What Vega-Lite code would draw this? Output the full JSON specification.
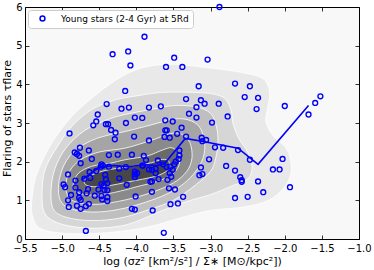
{
"$schema": "https://vega.github.io/schema/vega-lite/v6.json",
"width": 334, "height": 232,
"autosize": "none",
"padding": {"left": 25, "top": 7, "right": 15, "bottom": 31},
"background": "white",
"config": {
  "view": {"fill": "#f8f8f8", "stroke": "#000000", "strokeWidth": 1},
  "font": "DejaVu Sans",
  "axis": {"grid": false, "domain": false, "tickColor": "#000000", "tickSize": -4, "tickWidth": 0.8,
           "labelFont": "DejaVu Sans", "labelFontSize": 10, "labelColor": "#000000",
           "titleFont": "DejaVu Sans", "titleFontSize": 11, "titleColor": "#000000", "titleFontWeight": "normal"}
},
"datasets": {
"kde": [
{"l":1,"i":0,"x":-5.3,"y":0.28},{"l":1,"i":1,"x":-5.4,"y":0.6},{"l":1,"i":2,"x":-5.41,"y":0.95},{"l":1,"i":3,"x":-5.38,"y":1.4},{"l":1,"i":4,"x":-5.32,"y":1.79},{"l":1,"i":5,"x":-5.14,"y":2.48},{"l":1,"i":6,"x":-4.87,"y":3.17},{"l":1,"i":7,"x":-4.51,"y":3.78},{"l":1,"i":8,"x":-4.19,"y":4.21},{"l":1,"i":9,"x":-3.88,"y":4.45},{"l":1,"i":10,"x":-3.5,"y":4.52},{"l":1,"i":11,"x":-3.13,"y":4.45},{"l":1,"i":12,"x":-2.75,"y":4.36},{"l":1,"i":13,"x":-2.46,"y":4.26},{"l":1,"i":14,"x":-2.28,"y":4.13},{"l":1,"i":15,"x":-2.21,"y":3.87},{"l":1,"i":16,"x":-2.21,"y":3.6},{"l":1,"i":17,"x":-2.24,"y":3.3},{"l":1,"i":18,"x":-2.25,"y":3.0},{"l":1,"i":19,"x":-2.15,"y":2.65},{"l":1,"i":20,"x":-1.97,"y":2.32},{"l":1,"i":21,"x":-1.91,"y":1.8},{"l":1,"i":22,"x":-2.0,"y":1.35},{"l":1,"i":23,"x":-2.22,"y":1.0},{"l":1,"i":24,"x":-2.55,"y":0.83},{"l":1,"i":25,"x":-3.0,"y":0.74},{"l":1,"i":26,"x":-3.4,"y":0.55},{"l":1,"i":27,"x":-3.8,"y":0.33},{"l":1,"i":28,"x":-4.2,"y":0.2},{"l":1,"i":29,"x":-4.6,"y":0.14},{"l":1,"i":30,"x":-5.0,"y":0.15},
{"l":2,"i":0,"x":-5.23,"y":0.65},{"l":2,"i":1,"x":-5.27,"y":1.2},{"l":2,"i":2,"x":-5.23,"y":1.79},{"l":2,"i":3,"x":-5.09,"y":2.31},{"l":2,"i":4,"x":-4.87,"y":2.91},{"l":2,"i":5,"x":-4.6,"y":3.35},{"l":2,"i":6,"x":-4.28,"y":3.6},{"l":2,"i":7,"x":-4.0,"y":3.7},{"l":2,"i":8,"x":-3.72,"y":3.78},{"l":2,"i":9,"x":-3.4,"y":3.8},{"l":2,"i":10,"x":-3.0,"y":3.76},{"l":2,"i":11,"x":-2.8,"y":3.62},{"l":2,"i":12,"x":-2.72,"y":3.3},{"l":2,"i":13,"x":-2.7,"y":3.0},{"l":2,"i":14,"x":-2.62,"y":2.6},{"l":2,"i":15,"x":-2.5,"y":2.25},{"l":2,"i":16,"x":-2.44,"y":1.85},{"l":2,"i":17,"x":-2.5,"y":1.55},{"l":2,"i":18,"x":-2.7,"y":1.38},{"l":2,"i":19,"x":-3.0,"y":1.15},{"l":2,"i":20,"x":-3.3,"y":0.98},{"l":2,"i":21,"x":-3.67,"y":0.72},{"l":2,"i":22,"x":-3.94,"y":0.5},{"l":2,"i":23,"x":-4.2,"y":0.34},{"l":2,"i":24,"x":-4.6,"y":0.28},{"l":2,"i":25,"x":-5.0,"y":0.38},
{"l":3,"i":0,"x":-5.1,"y":0.72},{"l":3,"i":1,"x":-5.15,"y":1.2},{"l":3,"i":2,"x":-5.1,"y":1.8},{"l":3,"i":3,"x":-4.95,"y":2.35},{"l":3,"i":4,"x":-4.7,"y":2.8},{"l":3,"i":5,"x":-4.4,"y":3.08},{"l":3,"i":6,"x":-4.15,"y":3.22},{"l":3,"i":7,"x":-3.8,"y":3.35},{"l":3,"i":8,"x":-3.5,"y":3.45},{"l":3,"i":9,"x":-3.2,"y":3.42},{"l":3,"i":10,"x":-3.0,"y":3.25},{"l":3,"i":11,"x":-2.92,"y":2.9},{"l":3,"i":12,"x":-2.9,"y":2.5},{"l":3,"i":13,"x":-2.93,"y":2.1},{"l":3,"i":14,"x":-3.0,"y":1.75},{"l":3,"i":15,"x":-3.2,"y":1.4},{"l":3,"i":16,"x":-3.5,"y":1.0},{"l":3,"i":17,"x":-3.8,"y":0.78},{"l":3,"i":18,"x":-4.15,"y":0.57},{"l":3,"i":19,"x":-4.5,"y":0.48},{"l":3,"i":20,"x":-4.85,"y":0.52},
{"l":4,"i":0,"x":-5.0,"y":0.92},{"l":4,"i":1,"x":-5.05,"y":1.3},{"l":4,"i":2,"x":-5.0,"y":1.8},{"l":4,"i":3,"x":-4.85,"y":2.25},{"l":4,"i":4,"x":-4.6,"y":2.55},{"l":4,"i":5,"x":-4.35,"y":2.7},{"l":4,"i":6,"x":-4.15,"y":2.78},{"l":4,"i":7,"x":-3.8,"y":2.95},{"l":4,"i":8,"x":-3.5,"y":3.1},{"l":4,"i":9,"x":-3.3,"y":3.08},{"l":4,"i":10,"x":-3.15,"y":2.9},{"l":4,"i":11,"x":-3.08,"y":2.5},{"l":4,"i":12,"x":-3.1,"y":2.1},{"l":4,"i":13,"x":-3.2,"y":1.75},{"l":4,"i":14,"x":-3.35,"y":1.45},{"l":4,"i":15,"x":-3.55,"y":1.2},{"l":4,"i":16,"x":-3.8,"y":1.0},{"l":4,"i":17,"x":-4.15,"y":0.8},{"l":4,"i":18,"x":-4.5,"y":0.7},{"l":4,"i":19,"x":-4.8,"y":0.74},
{"l":5,"i":0,"x":-4.9,"y":1.05},{"l":5,"i":1,"x":-4.95,"y":1.35},{"l":5,"i":2,"x":-4.9,"y":1.75},{"l":5,"i":3,"x":-4.75,"y":2.05},{"l":5,"i":4,"x":-4.5,"y":2.25},{"l":5,"i":5,"x":-4.15,"y":2.35},{"l":5,"i":6,"x":-3.8,"y":2.55},{"l":5,"i":7,"x":-3.55,"y":2.72},{"l":5,"i":8,"x":-3.4,"y":2.72},{"l":5,"i":9,"x":-3.28,"y":2.5},{"l":5,"i":10,"x":-3.25,"y":2.1},{"l":5,"i":11,"x":-3.32,"y":1.75},{"l":5,"i":12,"x":-3.5,"y":1.45},{"l":5,"i":13,"x":-3.8,"y":1.2},{"l":5,"i":14,"x":-4.15,"y":1.01},{"l":5,"i":15,"x":-4.5,"y":0.9},{"l":5,"i":16,"x":-4.75,"y":0.93},
{"l":6,"i":0,"x":-4.82,"y":1.25},{"l":6,"i":1,"x":-4.85,"y":1.42},{"l":6,"i":2,"x":-4.78,"y":1.7},{"l":6,"i":3,"x":-4.6,"y":1.88},{"l":6,"i":4,"x":-4.35,"y":1.96},{"l":6,"i":5,"x":-4.15,"y":2.05},{"l":6,"i":6,"x":-3.85,"y":2.15},{"l":6,"i":7,"x":-3.65,"y":2.3},{"l":6,"i":8,"x":-3.52,"y":2.36},{"l":6,"i":9,"x":-3.43,"y":2.2},{"l":6,"i":10,"x":-3.42,"y":1.95},{"l":6,"i":11,"x":-3.5,"y":1.7},{"l":6,"i":12,"x":-3.7,"y":1.5},{"l":6,"i":13,"x":-4.0,"y":1.35},{"l":6,"i":14,"x":-4.15,"y":1.27},{"l":6,"i":15,"x":-4.45,"y":1.15},{"l":6,"i":16,"x":-4.7,"y":1.15},
{"l":7,"i":0,"x":-4.62,"y":1.36},{"l":7,"i":1,"x":-4.7,"y":1.47},{"l":7,"i":2,"x":-4.6,"y":1.65},{"l":7,"i":3,"x":-4.4,"y":1.78},{"l":7,"i":4,"x":-4.1,"y":1.87},{"l":7,"i":5,"x":-3.8,"y":1.97},{"l":7,"i":6,"x":-3.65,"y":2.06},{"l":7,"i":7,"x":-3.56,"y":2.0},{"l":7,"i":8,"x":-3.58,"y":1.78},{"l":7,"i":9,"x":-3.75,"y":1.62},{"l":7,"i":10,"x":-4.1,"y":1.48},{"l":7,"i":11,"x":-4.4,"y":1.37}
],
"med": [
{"x":-4.74,"y":1.53},{"x":-4.68,"y":1.6},{"x":-4.6,"y":1.72},{"x":-4.5,"y":1.86},{"x":-4.3,"y":1.9},{"x":-4.1,"y":1.87},{"x":-3.92,"y":1.92},{"x":-3.72,"y":1.9},{"x":-3.62,"y":1.95},{"x":-3.34,"y":2.6},{"x":-3.1,"y":2.52},{"x":-2.63,"y":2.35},{"x":-2.36,"y":1.93},{"x":-1.68,"y":3.45}
],
"pts": [
{"x":-2.88,"y":6.0},{"x":-3.61,"y":5.55},{"x":-3.89,"y":5.23},{"x":-4.32,"y":4.78},{"x":-4.11,"y":4.85},{"x":-4.08,"y":4.49},{"x":-3.49,"y":4.69},{"x":-3.04,"y":4.64},{"x":-3.6,"y":4.45},{"x":-3.38,"y":4.45},
{"x":-2.67,"y":4.02},{"x":-3.16,"y":3.95},{"x":-2.47,"y":3.95},{"x":-4.15,"y":3.83},{"x":-2.54,"y":3.67},{"x":-2.36,"y":3.65},{"x":-1.52,"y":3.69},{"x":-1.59,"y":3.52},{"x":-1.68,"y":3.22},{"x":-2.0,"y":3.44},
{"x":-2.38,"y":3.36},{"x":-2.77,"y":3.17},{"x":-3.33,"y":3.62},{"x":-3.13,"y":3.59},{"x":-3.08,"y":3.5},{"x":-3.19,"y":3.41},{"x":-2.89,"y":3.5},{"x":-3.29,"y":3.24},{"x":-3.19,"y":3.14},{"x":-2.98,"y":3.01},
{"x":-3.67,"y":3.43},{"x":-3.83,"y":3.4},{"x":-4.4,"y":3.49},{"x":-4.2,"y":3.37},{"x":-4.1,"y":3.4},{"x":-4.52,"y":3.22},{"x":-4.54,"y":3.04},{"x":-4.58,"y":2.94},{"x":-4.9,"y":2.73},{"x":-4.41,"y":2.97},
{"x":-4.38,"y":2.97},{"x":-4.34,"y":2.82},{"x":-4.28,"y":2.75},{"x":-4.29,"y":2.58},{"x":-4.14,"y":3.0},{"x":-4.02,"y":3.14},{"x":-3.92,"y":3.13},{"x":-4.03,"y":2.65},{"x":-3.83,"y":2.55},{"x":-3.61,"y":3.07},
{"x":-3.51,"y":3.04},{"x":-3.61,"y":2.81},{"x":-3.59,"y":2.81},{"x":-3.62,"y":2.64},{"x":-3.55,"y":2.62},{"x":-3.39,"y":2.88},{"x":-3.45,"y":2.72},{"x":-3.33,"y":2.65},{"x":-3.12,"y":2.62},{"x":-3.11,"y":2.53},
{"x":-3.06,"y":2.56},{"x":-2.94,"y":2.37},{"x":-2.83,"y":2.36},{"x":-2.63,"y":2.3},{"x":-3.02,"y":2.06},{"x":-2.79,"y":1.89},{"x":-2.47,"y":2.05},{"x":-2.03,"y":2.07},{"x":-2.16,"y":1.8},{"x":-2.07,"y":1.8},
{"x":-2.67,"y":1.77},{"x":-3.13,"y":1.85},{"x":-3.15,"y":1.65},{"x":-3.11,"y":1.68},{"x":-2.6,"y":1.6},{"x":-2.58,"y":1.52},{"x":-2.58,"y":1.48},{"x":-2.36,"y":1.49},{"x":-1.93,"y":1.34},{"x":-2.29,"y":1.21},
{"x":-2.5,"y":1.09},{"x":-2.67,"y":1.06},{"x":-3.37,"y":1.09},{"x":-3.44,"y":0.92},{"x":-3.54,"y":0.9},{"x":-3.48,"y":1.28},{"x":-3.56,"y":1.31},{"x":-3.63,"y":0.16},{"x":-4.68,"y":0.21},{"x":-3.78,"y":0.74},
{"x":-4.02,"y":0.76},{"x":-4.06,"y":0.78},{"x":-4.01,"y":1.1},{"x":-3.79,"y":1.22},{"x":-3.81,"y":1.48},{"x":-4.39,"y":1.08},{"x":-4.39,"y":0.98},{"x":-4.46,"y":1.02},{"x":-4.64,"y":0.91},{"x":-4.68,"y":0.85},
{"x":-4.8,"y":0.86},{"x":-4.75,"y":0.78},{"x":-4.75,"y":1.01},{"x":-4.91,"y":0.83},{"x":-4.92,"y":1.0},{"x":-4.88,"y":1.14},{"x":-4.98,"y":1.41},{"x":-4.96,"y":1.34},{"x":-4.82,"y":1.33},{"x":-4.77,"y":1.21},
{"x":-4.77,"y":1.07},{"x":-4.82,"y":1.51},{"x":-4.92,"y":1.67},{"x":-4.75,"y":1.96},{"x":-4.83,"y":2.24},{"x":-4.8,"y":2.2},{"x":-4.76,"y":2.36},{"x":-4.77,"y":2.15},{"x":-4.64,"y":2.29},{"x":-4.6,"y":2.07},
{"x":-4.47,"y":1.93},{"x":-4.45,"y":1.9},{"x":-4.37,"y":2.17},{"x":-4.25,"y":2.18},{"x":-4.06,"y":2.18},{"x":-3.9,"y":2.15},{"x":-3.87,"y":2.04},{"x":-3.71,"y":2.03},{"x":-3.64,"y":1.93},{"x":-3.49,"y":1.93},
{"x":-3.43,"y":2.07},{"x":-3.42,"y":2.16},{"x":-3.42,"y":2.29},{"x":-3.47,"y":2.0},{"x":-3.54,"y":1.87},{"x":-3.59,"y":1.86},{"x":-3.51,"y":1.79},{"x":-3.55,"y":1.7},{"x":-3.53,"y":1.61},{"x":-3.58,"y":1.53},
{"x":-3.74,"y":1.7},{"x":-3.74,"y":1.82},{"x":-3.79,"y":1.79},{"x":-3.83,"y":1.8},{"x":-3.7,"y":1.55},{"x":-3.79,"y":1.49},{"x":-3.99,"y":1.7},{"x":-4.02,"y":1.74},{"x":-4.02,"y":1.67},{"x":-4.02,"y":1.6},
{"x":-3.92,"y":1.9},{"x":-3.91,"y":1.9},{"x":-4.14,"y":1.86},{"x":-4.23,"y":1.82},{"x":-4.13,"y":1.4},{"x":-4.23,"y":1.57},{"x":-4.37,"y":1.87},{"x":-4.42,"y":1.66},{"x":-4.41,"y":1.54},{"x":-4.39,"y":1.44},
{"x":-4.44,"y":1.38},{"x":-4.43,"y":1.27},{"x":-4.39,"y":1.26},{"x":-4.47,"y":1.42},{"x":-4.51,"y":1.28},{"x":-4.56,"y":1.12},{"x":-4.47,"y":1.11},{"x":-4.65,"y":1.29},{"x":-4.67,"y":1.18},{"x":-4.62,"y":1.58},
{"x":-4.63,"y":1.73},{"x":-4.7,"y":1.56},{"x":-4.54,"y":1.76},{"x":-4.48,"y":1.87}
]
},
"encoding": {
  "x": {"field": "x", "type": "quantitative", "scale": {"domain": [-5.5, -1.0], "nice": false, "zero": false}, "axis": null},
  "y": {"field": "y", "type": "quantitative", "scale": {"domain": [0, 6], "nice": false, "zero": false}, "axis": null}
},
"layer": [
  {"data": {"name": "kde"}, "transform": [{"filter": "datum.l == 1"}],
   "mark": {"type": "line", "fill": "#e9e9e9", "stroke": "#ffffff", "strokeWidth": 0.8, "interpolate": "cardinal-closed"},
   "encoding": {
     "x": {"field": "x", "type": "quantitative", "scale": {"domain": [-5.5, -1.0], "nice": false, "zero": false},
           "axis": {"orient": "bottom", "values": [-5.5,-5.0,-4.5,-4.0,-3.5,-3.0,-2.5,-2.0,-1.5,-1.0], "format": ".1f", "labelPadding": 8, "labelFlush": false, "labelOverlap": false,
                    "title": "log (σz² [km²/s²] / Σ∗ [M⊙/kpc²])", "titlePadding": 2}},
     "y": {"field": "y", "type": "quantitative", "scale": {"domain": [0, 6], "nice": false, "zero": false},
           "axis": {"orient": "left", "values": [0,1,2,3,4,5,6], "format": "d", "labelPadding": 7, "labelFlush": false, "labelOverlap": false,
                    "title": "Flaring of stars τflare", "titlePadding": 3, "titleAnchor": "middle", "titleY": 111}},
     "order": {"field": "i", "type": "quantitative"}}},
  {"data": {"name": "kde"}, "transform": [{"filter": "datum.l == 2"}],
   "mark": {"type": "line", "fill": "#d6d6d6", "stroke": "#ffffff", "strokeWidth": 0.8, "interpolate": "cardinal-closed"},
   "encoding": {"order": {"field": "i", "type": "quantitative"}}},
  {"data": {"name": "kde"}, "transform": [{"filter": "datum.l == 3"}],
   "mark": {"type": "line", "fill": "#bfbfbf", "stroke": "#ffffff", "strokeWidth": 0.8, "interpolate": "cardinal-closed"},
   "encoding": {"order": {"field": "i", "type": "quantitative"}}},
  {"data": {"name": "kde"}, "transform": [{"filter": "datum.l == 4"}],
   "mark": {"type": "line", "fill": "#a5a5a5", "stroke": "#ffffff", "strokeWidth": 0.8, "interpolate": "cardinal-closed"},
   "encoding": {"order": {"field": "i", "type": "quantitative"}}},
  {"data": {"name": "kde"}, "transform": [{"filter": "datum.l == 5"}],
   "mark": {"type": "line", "fill": "#8a8a8a", "stroke": "#ffffff", "strokeWidth": 0.8, "interpolate": "cardinal-closed"},
   "encoding": {"order": {"field": "i", "type": "quantitative"}}},
  {"data": {"name": "kde"}, "transform": [{"filter": "datum.l == 6"}],
   "mark": {"type": "line", "fill": "#6a6a6a", "stroke": "#ffffff", "strokeWidth": 0.8, "interpolate": "cardinal-closed"},
   "encoding": {"order": {"field": "i", "type": "quantitative"}}},
  {"data": {"name": "kde"}, "transform": [{"filter": "datum.l == 7"}],
   "mark": {"type": "line", "fill": "#474747", "stroke": "#ffffff", "strokeWidth": 0.8, "interpolate": "cardinal-closed"},
   "encoding": {"order": {"field": "i", "type": "quantitative"}}},
  {"data": {"name": "med"},
   "mark": {"type": "line", "color": "#0000ff", "strokeWidth": 1.6},
   "encoding": {}},
  {"data": {"name": "pts"},
   "mark": {"type": "point", "shape": "circle", "filled": false, "size": 24, "strokeWidth": 1.4, "opacity": 1},
   "encoding": {
     "x": {"field": "x", "type": "quantitative", "scale": {"domain": [-5.5, -1.0], "nice": false, "zero": false},
           "axis": {"orient": "top", "values": [-5.5,-5.0,-4.5,-4.0,-3.5,-3.0,-2.5,-2.0,-1.5,-1.0], "labels": false, "title": null}},
     "y": {"field": "y", "type": "quantitative", "scale": {"domain": [0, 6], "nice": false, "zero": false},
           "axis": {"orient": "right", "values": [0,1,2,3,4,5,6], "labels": false, "title": null}},
     "color": {"datum": "Young stars (2-4 Gyr) at 5Rd", "type": "nominal", "scale": {"range": ["#0000ff"]},
               "legend": {"title": null, "orient": "none", "legendX": 3, "legendY": 3, "padding": 4, "fillColor": "#ffffff", "strokeColor": "#cccccc", "cornerRadius": 3,
                          "labelFont": "DejaVu Sans", "labelFontSize": 9, "labelColor": "#000000", "symbolType": "circle", "symbolSize": 24, "symbolStrokeWidth": 1.5,
                          "symbolOffset": 6, "labelOffset": 14}}}}
]
}
